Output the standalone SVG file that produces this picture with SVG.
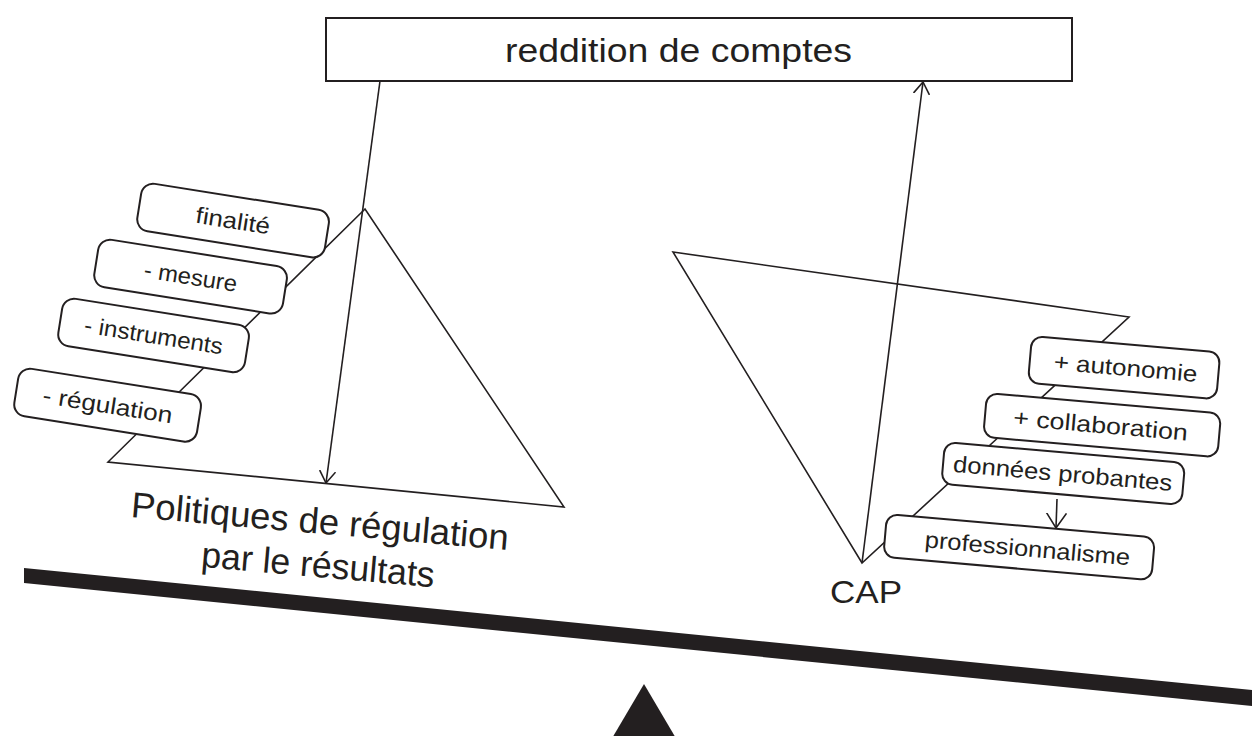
<svg xmlns="http://www.w3.org/2000/svg" width="1252" height="736" viewBox="0 0 1252 736">
  <style>
    .ln { fill: none; stroke: #231f20; stroke-width: 1.6; stroke-linejoin: miter; }
    .box { fill: #ffffff; stroke: #231f20; stroke-width: 2; }
    .txt { font-family: "Liberation Sans", Arial, sans-serif; fill: #231f20; }
    .lbl { font-size: 23px; text-anchor: middle; }
    .solid { fill: #231f20; stroke: none; }
  </style>
  <defs>
    <marker id="arr" viewBox="0 0 12 18" refX="12" refY="9" markerWidth="12" markerHeight="18" markerUnits="userSpaceOnUse" orient="auto">
      <path d="M0,1 L12,9 L0,17" fill="none" stroke="#231f20" stroke-width="1.6"/>
    </marker>
    <marker id="arr2" viewBox="0 0 15 22" refX="15" refY="11" markerWidth="15" markerHeight="22" markerUnits="userSpaceOnUse" orient="auto">
      <path d="M0,1 L15,11 L0,21" fill="none" stroke="#231f20" stroke-width="1.6"/>
    </marker>
  </defs>

  <!-- balance beam and fulcrum -->
  <g id="beam">
    <polygon class="solid" points="24,568 1252,690 1252,706 24,583"/>
  </g>
  <g id="fulcrum">
    <polygon class="solid" points="644,684 677,740 611,740"/>
  </g>

  <!-- triangles -->
  <g id="left-triangle">
    <polygon class="ln" points="365,209 108,462 564,507"/>
  </g>
  <g id="right-triangle">
    <polygon class="ln" points="673,252 1129,317 862,563"/>
  </g>

  <!-- top node -->
  <g id="reddition">
    <rect class="box" x="326" y="18" width="746" height="63"/>
    <text class="txt" x="678.5" y="62" font-size="34" text-anchor="middle" textLength="347" lengthAdjust="spacingAndGlyphs">reddition de comptes</text>
  </g>

  <!-- left boxes -->
  <g id="finalite" transform="translate(143,182) rotate(9)">
    <rect class="box" x="0" y="0" width="190" height="48" rx="12"/>
    <text class="txt lbl" x="95" y="32" textLength="75" lengthAdjust="spacingAndGlyphs">finalité</text>
  </g>
  <g id="mesure" transform="translate(100,238) rotate(9)">
    <rect class="box" x="0" y="0" width="191" height="48" rx="12"/>
    <text class="txt lbl" x="95.5" y="32" textLength="94" lengthAdjust="spacingAndGlyphs">- mesure</text>
  </g>
  <g id="instruments" transform="translate(64,297) rotate(9)">
    <rect class="box" x="0" y="0" width="189" height="48" rx="12"/>
    <text class="txt lbl" x="94.5" y="32" textLength="140" lengthAdjust="spacingAndGlyphs">- instruments</text>
  </g>
  <g id="regulation" transform="translate(20,367) rotate(9)">
    <rect class="box" x="0" y="0" width="185" height="48" rx="12"/>
    <text class="txt lbl" x="92.5" y="32" textLength="131" lengthAdjust="spacingAndGlyphs">- régulation</text>
  </g>

  <!-- right boxes -->
  <g id="autonomie" transform="translate(1032,336) rotate(5)">
    <rect class="box" x="0" y="0" width="189" height="47" rx="11"/>
    <text class="txt lbl" x="96" y="31.5" textLength="144" lengthAdjust="spacingAndGlyphs">+ autonomie</text>
  </g>
  <g id="collaboration" transform="translate(987,393) rotate(5)">
    <rect class="box" x="0" y="0" width="235" height="44" rx="11"/>
    <text class="txt lbl" x="116" y="30" textLength="175" lengthAdjust="spacingAndGlyphs">+ collaboration</text>
  </g>
  <g id="donnees" transform="translate(945,442) rotate(5)">
    <rect class="box" x="0" y="0" width="241" height="42" rx="11"/>
    <text class="txt lbl" x="120" y="29" textLength="220" lengthAdjust="spacingAndGlyphs">données probantes</text>
  </g>
  <g id="professionnalisme" transform="translate(887,514) rotate(5)">
    <rect class="box" x="0" y="0" width="269" height="43" rx="11"/>
    <text class="txt lbl" x="143" y="30" textLength="206" lengthAdjust="spacingAndGlyphs">professionnalisme</text>
  </g>

  <!-- connectors -->
  <g id="connectors">
    <line class="ln" x1="380" y1="81" x2="326" y2="483" marker-end="url(#arr)"/>
    <line class="ln" x1="862" y1="563" x2="923" y2="82" marker-end="url(#arr)"/>
    <line class="ln" x1="1057" y1="499" x2="1056" y2="528" marker-end="url(#arr2)"/>
  </g>

  <!-- free labels -->
  <g id="labels">
    <text class="txt" font-size="36" text-anchor="middle" transform="translate(319,533.5) rotate(5)" textLength="379" lengthAdjust="spacingAndGlyphs">Politiques de régulation</text>
    <text class="txt" font-size="36" text-anchor="middle" transform="translate(317,577) rotate(5)" textLength="234" lengthAdjust="spacingAndGlyphs">par le résultats</text>
    <text class="txt" x="830" y="603" font-size="31" textLength="72" lengthAdjust="spacingAndGlyphs">CAP</text>
  </g>
</svg>
